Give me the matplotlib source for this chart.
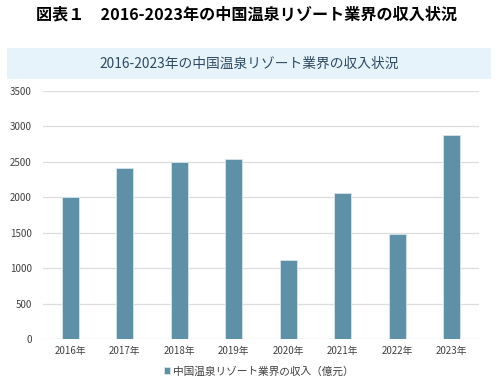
import matplotlib.pyplot as plt
from matplotlib.patches import Rectangle

plt.rcParams['font.family'] = ['Noto Sans CJK JP', 'DejaVu Sans']

years = ["2016年", "2017年", "2018年", "2019年", "2020年", "2021年", "2022年", "2023年"]
revenue = [2000, 2420, 2495, 2545, 1120, 2055, 1480, 2880]
yticks = [0, 500, 1000, 1500, 2000, 2500, 3000, 3500]

fig = plt.figure(figsize=(4.99, 3.84), dpi=100)

# figure caption
fig.text(0.494, 0.962, "図表１　2016-2023年の中国温泉リゾート業界の収入状況",
         ha="center", va="center", fontsize=11.6, fontweight="bold", color="black")

# light blue title band
fig.patches.append(Rectangle((0.014, 0.794), 0.970, 0.081, transform=fig.transFigure,
                             facecolor="#E6F3FB", edgecolor="none", zorder=0))
fig.text(0.5, 0.835, "2016-2023年の中国温泉リゾート業界の収入状況",
         ha="center", va="center", fontsize=9.9, color="#2E4A62")

ax = fig.add_axes([0.086, 0.117, 0.874, 0.646])
x = range(len(years))
ax.bar(x, revenue, width=0.31, color="#5E91A8", edgecolor="#D6E6EE", linewidth=0.6,
       zorder=3, label="中国温泉リゾート業界の収入（億元）")
ax.set_xlim(-0.5, len(years) - 0.5)
ax.set_ylim(0, 3500)
ax.set_yticks(yticks)
ax.set_xticks(list(x))
ax.set_xticklabels(years)
ax.grid(axis="y", color="#DDDDDD", linewidth=0.9, zorder=0)
for s in ax.spines.values():
    s.set_visible(False)
ax.tick_params(length=0, labelsize=7, colors="#404040")
ax.tick_params(axis="y", pad=8)
ax.tick_params(axis="x", pad=5)

leg = ax.legend(loc="upper center", bbox_to_anchor=(0.495, -0.07), frameon=False,
                fontsize=7.7, handlelength=0.6, handleheight=0.6, handletextpad=0.3)
for t in leg.get_texts():
    t.set_color("#404040")

fig.savefig("out.png", dpi=100)
